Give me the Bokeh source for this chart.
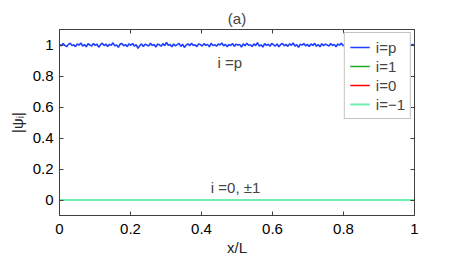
import numpy as np
from bokeh.plotting import figure
from bokeh.models import LinearAxis, Label, Range1d, Legend, LegendItem, FixedTicker
from bokeh.embed import file_html
from bokeh.resources import INLINE

# |psi_p| along x/L (noisy around 1)
psi_p = [
    1.004, 0.995, 1.009, 0.998, 0.989, 1.004, 1.011, 0.996, 1.001, 0.990,
    1.007, 0.999, 1.013, 0.993, 1.003, 0.988, 1.008, 1.000, 0.994, 1.010,
    0.997, 1.005, 0.986, 1.002, 1.012, 0.996, 1.006, 0.991, 1.004, 0.999,
    1.014, 0.994, 1.001, 0.985, 1.006, 1.009, 0.995, 1.003, 0.989, 1.008,
    0.998, 1.010, 0.992, 1.002, 0.978, 0.996, 1.007, 0.990, 1.005, 1.000,
    0.993, 1.011, 0.997, 1.004, 0.987, 1.006, 1.001, 0.992, 1.009, 0.996,
    1.016, 0.998, 1.003, 0.989, 1.007, 0.994, 1.002, 1.010, 0.991, 1.005,
    0.984, 0.999, 1.008, 0.995, 1.012, 0.997, 1.001, 0.990, 1.006, 1.003,
    0.993, 1.009, 0.998, 1.004, 0.988, 1.011, 0.996, 1.002, 0.992, 1.007,
    1.000, 1.013, 0.994, 1.005, 0.989, 1.003, 0.997, 1.010, 0.991, 1.006,
    0.999, 1.004, 0.986, 1.008, 0.995, 1.012, 0.998, 1.002, 0.990, 1.007,
    0.996, 1.015, 0.993, 1.001, 0.987, 1.009, 0.997, 1.005, 0.992, 1.011,
    1.000, 0.994, 1.006, 0.989, 1.003, 1.010, 0.995, 1.004, 0.991, 1.008,
    0.998, 1.013, 0.993, 1.002, 0.985, 1.006, 0.999, 1.009, 0.994, 1.004,
    0.990, 1.007, 0.997, 1.011, 0.992, 1.003, 0.988, 1.008, 0.996, 1.005,
    1.001, 0.993, 1.010, 0.997, 1.004, 0.989, 1.006, 0.999, 1.012, 0.995,
    1.002, 0.991, 1.008, 0.996, 1.005, 0.987, 1.009, 1.000, 0.994, 1.007,
    0.998, 1.011, 0.992, 1.003, 0.990, 1.006, 0.996, 1.010, 0.993, 1.004,
    0.999, 1.008, 0.988, 1.005, 0.995, 1.012, 0.997, 1.002, 0.991, 1.006,
    1.000, 0.994, 1.009, 0.996, 1.003, 0.989, 1.007, 0.998, 1.004, 0.995,
]
n_pts = len(psi_p)
x_over_L = np.linspace(0.0, 1.0, n_pts)
psi_1 = [0.0] * n_pts
psi_0 = [0.0] * n_pts
psi_m1 = [0.0] * n_pts

series_labels = ["i=p", "i=1", "i=0", "i=\u22121"]
series_colors = ["#2040ff", "#22aa22", "#ff0000", "#70eeb0"]
series_widths = [1.6, 1.3, 1.3, 1.8]

x_ticks = [0, 0.2, 0.4, 0.6, 0.8, 1]
x_tick_labels = ["0", "0.2", "0.4", "0.6", "0.8", "1"]
y_ticks = [0, 0.2, 0.4, 0.6, 0.8, 1]
y_tick_labels = ["0", "0.2", "0.4", "0.6", "0.8", "1"]

annot_p = "i =p"
annot_0 = "i =0, \u00b11"
title_text = "(a)"

FONT = "Liberation Sans"
AX = "#404040"

p = figure(width=457, height=258, output_backend="svg", toolbar_location=None,
           x_range=Range1d(0, 1), y_range=Range1d(-0.1, 1.1),
           min_border_left=59, min_border_right=43, min_border_top=29,
           min_border_bottom=39, title=title_text)
p.title.align = "center"
p.title.vertical_align = "top"
p.title.text_font = FONT
p.title.text_font_size = "15px"
p.title.text_font_style = "normal"
p.title.standoff = 2
p.title.offset = 0
p.grid.visible = False
p.outline_line_color = AX

renderers = []
for ys, c, w in zip([psi_p, psi_1, psi_0, psi_m1], series_colors, series_widths):
    r = p.line(x_over_L, ys, line_color=c, line_width=w)
    renderers.append(r)

def style_axis(ax, ticks, labels, show_labels=True):
    ax.ticker = FixedTicker(ticks=ticks)
    ax.major_label_overrides = {t: l for t, l in zip(ticks, labels)}
    ax.axis_line_color = AX
    ax.major_tick_line_color = AX
    ax.major_tick_in = 4
    ax.major_tick_out = 0
    ax.minor_tick_line_color = None
    ax.major_label_text_font = FONT
    ax.major_label_text_font_size = "15px" if show_labels else "0px"
    ax.major_label_text_color = "black"

style_axis(p.xaxis[0], x_ticks, x_tick_labels)
style_axis(p.yaxis[0], y_ticks, y_tick_labels)
p.xaxis[0].major_label_standoff = 8
p.yaxis[0].major_label_standoff = 6
p.xaxis[0].axis_label = "x/L"
p.yaxis[0].axis_label = "|\u03c8\u1d62|"
for ax in (p.xaxis[0], p.yaxis[0]):
    ax.axis_label_text_font = FONT
    ax.axis_label_text_font_size = "15px"
    ax.axis_label_text_font_style = "normal"
    ax.axis_label_text_color = "#222222"
p.xaxis[0].axis_label_standoff = 2
p.yaxis[0].axis_label_standoff = 4

top_ax = LinearAxis()
style_axis(top_ax, x_ticks, [""] * len(x_ticks), show_labels=False)
p.add_layout(top_ax, "above")
right_ax = LinearAxis()
style_axis(right_ax, y_ticks, [""] * len(y_ticks), show_labels=False)
p.add_layout(right_ax, "right")

legend = Legend(items=[LegendItem(label=l, renderers=[r]) for l, r in zip(series_labels, renderers)],
                location="top_right")
legend.label_text_font = FONT
legend.label_text_font_size = "15px"
legend.glyph_width = 20
legend.glyph_height = 18
legend.label_height = 18
legend.spacing = 1
legend.padding = 5
legend.margin = 3
legend.label_standoff = 6
legend.border_line_color = "#888888"
legend.background_fill_alpha = 1.0
p.add_layout(legend, "center")

p.add_layout(Label(x=0.48, y=0.887, text=annot_p, text_font=FONT, text_font_size="15px",
                   text_align="center", text_baseline="middle"))
p.add_layout(Label(x=0.496, y=0.08, text=annot_0, text_font=FONT, text_font_size="15px",
                   text_align="center", text_baseline="middle"))

open("out.html", "w").write(file_html(p, INLINE))
